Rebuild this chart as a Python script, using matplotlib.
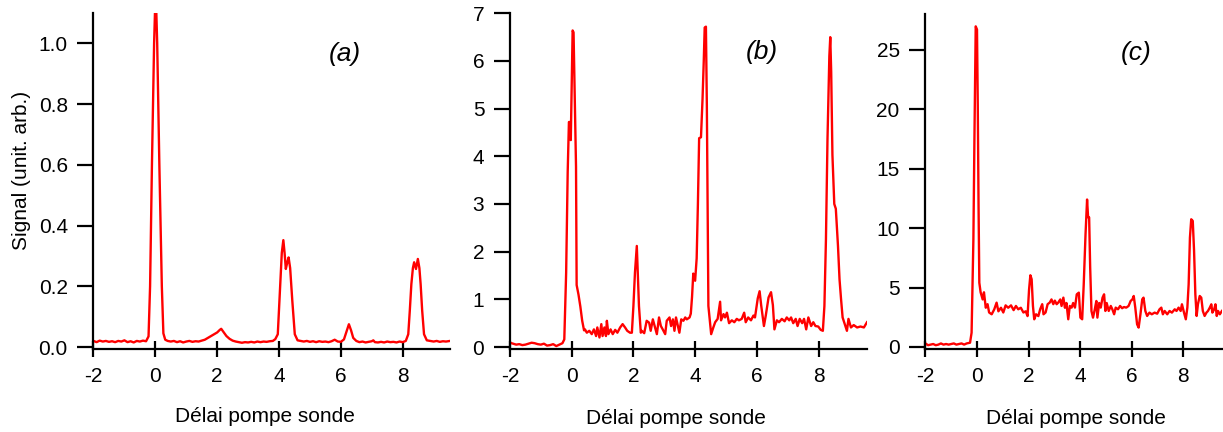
import matplotlib
matplotlib.use('Agg')
from matplotlib import pyplot as plt

# panel (a): delay vs signal
xa = [-2.0, -1.9, -1.8, -1.7, -1.6, -1.5, -1.4, -1.3, -1.2, -1.1, -1.0, -0.9, -0.8, -0.7, -0.6, -0.5,
      -0.4, -0.3, -0.22, -0.17, -0.11, -0.04, 0.01, 0.06, 0.13, 0.21, 0.26, 0.32,
      0.4, 0.5, 0.6, 0.7, 0.8, 0.9, 1.0, 1.1, 1.2, 1.3, 1.4, 1.5, 1.6, 1.7, 1.8, 1.9, 2.0, 2.08,
      2.13, 2.2, 2.3, 2.4, 2.5, 2.6, 2.7, 2.8, 2.9, 3.0, 3.1, 3.2, 3.3, 3.4, 3.5, 3.6, 3.7, 3.8,
      3.88, 3.96, 4.04, 4.09, 4.14, 4.18, 4.22, 4.27, 4.31, 4.36, 4.43, 4.51, 4.6, 4.7, 4.8, 4.9,
      5.0, 5.1, 5.2, 5.3, 5.4, 5.5, 5.6, 5.7, 5.8, 5.9, 6.0, 6.1, 6.18, 6.26, 6.33, 6.4, 6.5, 6.6,
      6.7, 6.8, 6.9, 7.0, 7.05, 7.1, 7.2, 7.3, 7.4, 7.5, 7.6, 7.7, 7.8, 7.9, 8.0, 8.1, 8.18, 8.23,
      8.28, 8.33, 8.37, 8.43, 8.49, 8.54, 8.58, 8.63, 8.69, 8.78, 8.9, 9.0, 9.1, 9.2, 9.3, 9.4, 9.53]
ya = [0.020, 0.016, 0.021, 0.018, 0.020, 0.017, 0.019, 0.016, 0.020, 0.018, 0.022, 0.016, 0.019, 0.015,
      0.020, 0.018, 0.021, 0.019, 0.035, 0.2, 0.6, 1.0, 1.18, 1.0, 0.6, 0.2, 0.045, 0.024,
      0.020, 0.018, 0.020, 0.016, 0.019, 0.015, 0.018, 0.020, 0.017, 0.019, 0.018, 0.021, 0.024, 0.030,
      0.036, 0.042, 0.048, 0.056, 0.060, 0.050, 0.036, 0.027, 0.021, 0.018, 0.016, 0.014, 0.016, 0.015,
      0.017, 0.015, 0.018, 0.016, 0.018, 0.017, 0.019, 0.020, 0.026, 0.042, 0.207, 0.31, 0.352, 0.31,
      0.257, 0.28, 0.295, 0.26, 0.152, 0.042, 0.022, 0.020, 0.018, 0.020, 0.017, 0.019, 0.016, 0.019,
      0.017, 0.018, 0.016, 0.019, 0.024, 0.018, 0.017, 0.025, 0.05, 0.075, 0.055, 0.030, 0.020, 0.016,
      0.018, 0.015, 0.017, 0.019, 0.022, 0.016, 0.015, 0.017, 0.015, 0.018, 0.016, 0.017, 0.015, 0.018,
      0.016, 0.020, 0.042, 0.12, 0.207, 0.26, 0.279, 0.257, 0.29, 0.26, 0.207, 0.12, 0.042, 0.022, 0.020,
      0.018, 0.020, 0.017, 0.019, 0.018, 0.020]

# panel (b)
xb = [-2.0, -1.9, -1.8, -1.7, -1.6, -1.5, -1.4, -1.3, -1.2, -1.1, -1.0, -0.9, -0.8, -0.7, -0.6, -0.5,
      -0.4, -0.3, -0.24, -0.18, -0.13, -0.09, -0.05, -0.03, 0.0, 0.03, 0.06, 0.1, 0.14, 0.16, 0.22,
      0.28, 0.34, 0.4, 0.43, 0.49, 0.57, 0.65, 0.72, 0.79, 0.83, 0.9, 0.96, 1.0, 1.06, 1.11, 1.14,
      1.19, 1.26, 1.33, 1.41, 1.48, 1.57, 1.65, 1.73, 1.8, 1.89, 1.95, 2.0, 2.05, 2.11, 2.14, 2.18,
      2.24, 2.27, 2.35, 2.43, 2.51, 2.56, 2.63, 2.69, 2.76, 2.83, 2.89, 2.95, 3.03, 3.08, 3.17, 3.22,
      3.28, 3.33, 3.38, 3.44, 3.49, 3.55, 3.62, 3.68, 3.73, 3.82, 3.86, 3.9, 3.94, 4.0, 4.05, 4.09,
      4.13, 4.19, 4.24, 4.28, 4.31, 4.35, 4.38, 4.43, 4.52, 4.59, 4.65, 4.73, 4.81, 4.84, 4.92, 4.97,
      5.03, 5.1, 5.19, 5.27, 5.35, 5.42, 5.51, 5.59, 5.64, 5.72, 5.81, 5.89, 5.94, 6.03, 6.09, 6.14,
      6.23, 6.29, 6.38, 6.46, 6.52, 6.57, 6.65, 6.72, 6.81, 6.9, 6.97, 7.05, 7.11, 7.18, 7.26, 7.32,
      7.39, 7.47, 7.53, 7.6, 7.67, 7.76, 7.83, 7.9, 7.99, 8.07, 8.14, 8.19, 8.24, 8.29, 8.35, 8.38,
      8.41, 8.45, 8.51, 8.56, 8.63, 8.68, 8.73, 8.78, 8.87, 8.92, 8.97, 9.05, 9.14, 9.25, 9.36, 9.47, 9.57]
yb = [0.09, 0.07, 0.05, 0.06, 0.04, 0.05, 0.07, 0.09, 0.08, 0.06, 0.05, 0.07, 0.03, 0.04, 0.06, 0.02,
      0.05, 0.08, 0.16, 1.56, 3.67, 4.72, 4.72, 4.34, 5.5, 6.64, 6.6, 5.2, 3.78, 1.3, 1.1,
      0.85, 0.55, 0.35, 0.37, 0.3, 0.34, 0.27, 0.37, 0.23, 0.41, 0.2, 0.48, 0.23, 0.41, 0.23, 0.55,
      0.27, 0.37, 0.27, 0.36, 0.3, 0.41, 0.48, 0.41, 0.34, 0.3, 0.3, 0.86, 1.56, 2.12, 1.56, 0.86,
      0.3, 0.34, 0.29, 0.55, 0.51, 0.34, 0.58, 0.44, 0.27, 0.62, 0.44, 0.37, 0.27, 0.55, 0.62, 0.44,
      0.58, 0.34, 0.62, 0.44, 0.3, 0.58, 0.55, 0.62, 0.58, 0.62, 0.7, 1.05, 1.54, 1.39, 1.86, 3.0,
      4.38, 4.4, 5.2, 6.0, 6.7, 6.72, 5.07, 0.86, 0.27, 0.41, 0.52, 0.59, 0.95, 0.56, 0.69, 0.62,
      0.72, 0.5, 0.56, 0.52, 0.59, 0.56, 0.59, 0.72, 0.52, 0.62, 0.56, 0.66, 0.62, 1.02, 1.17, 0.88,
      0.44, 0.66, 1.04, 1.15, 0.88, 0.37, 0.56, 0.52, 0.59, 0.54, 0.62, 0.56, 0.62, 0.5, 0.59, 0.44,
      0.59, 0.5, 0.59, 0.37, 0.62, 0.44, 0.52, 0.44, 0.43, 0.36, 0.34, 0.86, 2.26, 4.36, 6.1, 6.5,
      5.77, 4.03, 3.0, 2.9, 2.12, 1.42, 1.0, 0.62, 0.44, 0.34, 0.59, 0.41, 0.46, 0.41, 0.43, 0.41, 0.52]

# panel (c)
xc = [-2.0, -1.9, -1.8, -1.7, -1.6, -1.5, -1.4, -1.3, -1.2, -1.1, -1.0, -0.9, -0.8, -0.7, -0.6, -0.5,
      -0.4, -0.3, -0.27, -0.21, -0.14, -0.1, -0.05, 0.0, 0.03, 0.06, 0.09, 0.14, 0.22, 0.27, 0.34,
      0.41, 0.47, 0.57, 0.67, 0.76, 0.83, 0.93, 1.02, 1.11, 1.21, 1.32, 1.42, 1.51, 1.6, 1.7, 1.8,
      1.89, 1.96, 2.02, 2.07, 2.12, 2.17, 2.22, 2.29, 2.38, 2.45, 2.53, 2.58, 2.66, 2.74, 2.82, 2.89,
      2.96, 3.02, 3.09, 3.15, 3.23, 3.28, 3.35, 3.41, 3.47, 3.54, 3.6, 3.67, 3.73, 3.8, 3.87, 3.95,
      4.01, 4.08, 4.14, 4.21, 4.27, 4.31, 4.35, 4.39, 4.44, 4.5, 4.57, 4.63, 4.67, 4.74, 4.8, 4.87,
      4.93, 4.98, 5.03, 5.11, 5.19, 5.25, 5.32, 5.38, 5.47, 5.55, 5.63, 5.7, 5.79, 5.88, 5.96, 6.03,
      6.08, 6.14, 6.21, 6.27, 6.34, 6.41, 6.46, 6.53, 6.6, 6.69, 6.78, 6.89, 6.99, 7.08, 7.15, 7.21,
      7.28, 7.38, 7.47, 7.56, 7.67, 7.74, 7.82, 7.9, 7.95, 8.03, 8.1, 8.16, 8.21, 8.26, 8.31, 8.37,
      8.42, 8.47, 8.52, 8.57, 8.64, 8.7, 8.76, 8.83, 8.9, 8.96, 9.03, 9.09, 9.13, 9.2, 9.25, 9.3,
      9.35, 9.42, 9.5]
yc = [0.3, 0.15, 0.2, 0.25, 0.15, 0.2, 0.3, 0.2, 0.25, 0.2, 0.25, 0.3, 0.2, 0.25, 0.3, 0.2,
      0.3, 0.35, 0.36, 1.2, 9.06, 17.5, 26.96, 26.7, 20.3, 11.9, 5.4, 4.6, 4.0, 4.6, 3.3,
      3.6, 2.9, 2.75, 3.17, 3.73, 3.0, 3.3, 2.9, 3.5, 3.3, 3.5, 3.1, 3.45, 3.17, 3.3, 2.9,
      3.0, 2.6, 4.85, 6.03, 5.7, 3.45, 2.33, 2.75, 2.6, 3.17, 3.6, 2.75, 2.9, 3.6, 3.73, 4.0,
      3.6, 3.9, 3.6, 3.73, 4.0, 3.45, 4.15, 3.3, 3.7, 2.33, 3.45, 3.31, 3.7, 3.31, 4.43, 4.57,
      2.47, 2.33, 5.27, 9.48, 12.4, 10.9, 10.9, 6.7, 3.03, 2.47, 3.17, 3.87, 2.47, 3.7, 3.31, 4.15,
      4.43, 3.03, 3.7, 3.03, 3.45, 3.17, 2.75, 3.31, 3.17, 3.45, 3.26, 3.36, 3.31, 3.45, 3.87, 4.01,
      4.29, 3.31, 1.91, 1.63, 2.75, 4.01, 4.15, 3.03, 2.61, 2.89, 2.75, 2.89, 2.8, 3.17, 3.31, 2.75,
      3.03, 2.75, 3.03, 2.89, 3.17, 3.03, 3.31, 3.03, 3.59, 2.89, 2.33, 3.31, 5.27, 9.2, 10.74, 10.6,
      8.1, 4.43, 2.61, 3.59, 4.29, 4.15, 3.03, 2.61, 2.89, 3.03, 3.31, 3.59, 2.89, 3.17, 3.59, 2.61,
      3.03, 2.75, 3.03]

x_ticks = [-2, 0, 2, 4, 6, 8]
panel_labels = ['(a)', '(b)', '(c)']
y_ticks = [[0.0, 0.2, 0.4, 0.6, 0.8, 1.0], [0, 1, 2, 3, 4, 5, 6, 7], [0, 5, 10, 15, 20, 25]]
y_tick_labels = [['0.0', '0.2', '0.4', '0.6', '0.8', '1.0'],
                 ['0', '1', '2', '3', '4', '5', '6', '7'],
                 ['0', '5', '10', '15', '20', '25']]

plt.rcParams['font.family'] = ['Liberation Sans', 'DejaVu Sans']

fig = plt.figure(figsize=(12.23, 4.32), dpi=100)

# [left, bottom, width, height], xlim, ylim, panel-label pos, xlabel pos
layout = [
    ([0.07645, 0.1921, 0.2915, 0.7778], (-2, 9.53), (-0.0066, 1.1), (0.705, 0.878), (0.480, -0.2015)),
    ([0.4170, 0.1921, 0.2919, 0.7771], (-2, 9.57), (-0.042, 7.0), (0.705, 0.885), (0.464, -0.2055)),
    ([0.7567, 0.1921, 0.2424, 0.7755], (-2, 9.5), (-0.17, 28.0), (0.712, 0.884), (0.507, -0.206)),
]
series = [(xa, ya), (xb, yb), (xc, yc)]

for i, (rect, xlim, ylim, lab_pos, xl_pos) in enumerate(layout):
    ax = fig.add_axes(rect)
    x, y = series[i]
    ax.plot(x, y, color='#ff0000', lw=1.7, solid_joinstyle='round')
    ax.set_xlim(*xlim)
    ax.set_ylim(*ylim)

    for side in ['top', 'right']:
        ax.spines[side].set_visible(False)
    for side in ['left', 'bottom']:
        ax.spines[side].set_linewidth(1.6)

    ax.set_xticks(x_ticks)
    ax.set_xticklabels([str(t) for t in x_ticks])
    ax.set_yticks(y_ticks[i])
    ax.set_yticklabels(y_tick_labels[i])
    ax.tick_params(axis='x', direction='inout', length=12, width=1.6, pad=7, labelsize=15)
    ax.tick_params(axis='y', direction='out', length=11.5, width=1.6, pad=7, labelsize=15)

    ax.set_xlabel('Délai pompe sonde', fontsize=15, va='center')
    ax.xaxis.set_label_coords(*xl_pos)
    ax.text(lab_pos[0], lab_pos[1], panel_labels[i], transform=ax.transAxes,
            fontsize=19, style='italic', ha='center', va='center')

    if i == 0:
        ax.set_ylabel('Signal (unit. arb.)', fontsize=15, va='center')
        ax.yaxis.set_label_coords(-0.2014, 0.53)

fig.savefig('out.png', dpi=100, facecolor='white')
plt.close(fig)
